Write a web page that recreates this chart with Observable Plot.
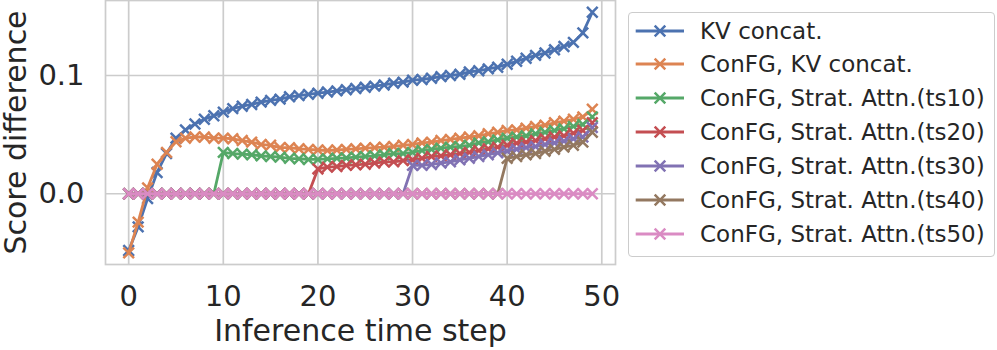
<!DOCTYPE html>
<html><head><meta charset="utf-8">
<script src="https://cdn.jsdelivr.net/npm/d3@7"></script>
<script src="https://cdn.jsdelivr.net/npm/@observablehq/plot@0.6"></script>
<style>
body{margin:0;background:#fff;font-family:"DejaVu Sans",sans-serif;}
#wrap{position:relative;width:997px;height:350px;}
#legend{position:absolute;left:627.5px;top:11.5px;width:367px;height:245px;border:1px solid #cccccc;border-radius:4px;background:rgba(255,255,255,0.8);box-sizing:border-box}
.row{position:absolute;height:34px;line-height:34px;font-size:23px;color:#262626;white-space:nowrap;font-family:"DejaVu Sans",sans-serif}
.sw{position:absolute;width:50px;height:34px}
</style></head><body><div id="wrap"></div>
<script>
const steps = [0,1,2,3,4,5,6,7,8,9,10,11,12,13,14,15,16,17,18,19,20,21,22,23,24,25,26,27,28,29,30,31,32,33,34,35,36,37,38,39,40,41,42,43,44,45,46,47,48,49];
const xTicks = [0,10,20,30,40,50];
const yTicks = [0,0.1];
const seriesNames = ["KV concat.","ConFG, KV concat.","ConFG, Strat. Attn.(ts10)","ConFG, Strat. Attn.(ts20)","ConFG, Strat. Attn.(ts30)","ConFG, Strat. Attn.(ts40)","ConFG, Strat. Attn.(ts50)"];
const seriesColors = ["#4C72B0","#DD8452","#55A868","#C44E52","#8172B3","#937860","#DA8BC3"];

const kvConcat = [-0.048,-0.028,-0.004,0.018,0.034,0.047,0.054,0.059,0.063,0.066,0.069,0.072,0.074,0.0755,0.0775,0.079,0.080,0.082,0.083,0.084,0.085,0.086,0.087,0.088,0.089,0.090,0.091,0.092,0.0935,0.0944,0.096,0.0966,0.0977,0.099,0.100,0.101,0.103,0.104,0.1056,0.107,0.1095,0.112,0.1146,0.117,0.119,0.1217,0.1245,0.128,0.136,0.1535];
const confgKv = [-0.050,-0.024,0.005,0.025,0.035,0.044,0.047,0.048,0.048,0.047,0.047,0.0465,0.045,0.0437,0.0417,0.041,0.039,0.039,0.038,0.0375,0.037,0.0366,0.037,0.0375,0.038,0.0386,0.039,0.0394,0.040,0.041,0.0417,0.043,0.0437,0.045,0.046,0.047,0.048,0.049,0.0507,0.052,0.0535,0.054,0.0555,0.057,0.058,0.060,0.0614,0.063,0.065,0.0715];
const strat10 = [0,0,0,0,0,0,0,0,0,0,0.035,0.034,0.0335,0.033,0.032,0.0315,0.031,0.030,0.0296,0.029,0.029,0.0295,0.030,0.0303,0.031,0.0315,0.032,0.033,0.034,0.034,0.035,0.0366,0.0375,0.0386,0.0394,0.040,0.041,0.043,0.044,0.0456,0.047,0.048,0.049,0.0507,0.052,0.0535,0.055,0.057,0.0586,0.065];
const strat20 = [0,0,0,0,0,0,0,0,0,0,0,0,0,0,0,0,0,0,0,0,0.021,0.0225,0.023,0.024,0.0245,0.025,0.026,0.027,0.027,0.028,0.0287,0.030,0.0315,0.032,0.033,0.034,0.035,0.0366,0.038,0.0394,0.041,0.0428,0.0437,0.045,0.0465,0.048,0.049,0.0513,0.0535,0.060];
const strat30 = [0,0,0,0,0,0,0,0,0,0,0,0,0,0,0,0,0,0,0,0,0,0,0,0,0,0,0,0,0,0,0.024,0.024,0.0248,0.026,0.027,0.0287,0.030,0.0315,0.033,0.0346,0.036,0.0377,0.039,0.040,0.0417,0.043,0.0445,0.0465,0.048,0.056];
const strat40 = [0,0,0,0,0,0,0,0,0,0,0,0,0,0,0,0,0,0,0,0,0,0,0,0,0,0,0,0,0,0,0,0,0,0,0,0,0,0,0,0,0.030,0.0315,0.033,0.034,0.036,0.0375,0.0394,0.041,0.0437,0.052];
const strat50 = [0,0,0,0,0,0,0,0,0,0,0,0,0,0,0,0,0,0,0,0,0,0,0,0,0,0,0,0,0,0,0,0,0,0,0,0,0,0,0,0,0,0,0,0,0,0,0,0,0,0];

const seriesValues = [kvConcat, confgKv, strat10, strat20, strat30, strat40, strat50];
const tables = seriesValues.map((vals, k) => steps.map((s, i) => ({step: s, value: vals[i], series: seriesNames[k]})));

const marks = [
  Plot.gridX({ticks: xTicks, stroke: "#cccccc", strokeOpacity: 1, strokeWidth: 1.7}),
  Plot.gridY({ticks: yTicks, stroke: "#cccccc", strokeOpacity: 1, strokeWidth: 1.7}),
  Plot.frame({stroke: "#cccccc", strokeWidth: 1.7}),
  Plot.axisX({ticks: xTicks, tickSize: 0, tickPadding: 21, fontSize: 29, label: null}),
  Plot.axisY({ticks: yTicks, tickSize: 0, tickPadding: 21, fontSize: 29, tickFormat: d3.format(".1f"), label: null}),
  Plot.text(["Inference time step"], {text: d => d, frameAnchor: "bottom", dy: 55.4, lineAnchor: "top", textAnchor: "middle", fontSize: 30}),
  Plot.text(["Score difference"], {text: d => d, frameAnchor: "left", rotate: -90, dx: -100.5, lineAnchor: "top", textAnchor: "middle", fontSize: 30})
];
tables.forEach(t => {
  marks.push(Plot.line(t, {x: "step", y: "value", stroke: "series", strokeWidth: 2.8}));
  marks.push(Plot.dot(t, {x: "step", y: "value", stroke: "series", symbol: "times", r: 4.9, strokeWidth: 2.5}));
});

const chart = Plot.plot({
  width: 997, height: 350,
  marginLeft: 105, marginRight: 382, marginTop: 0, marginBottom: 86,
  style: {fontFamily: "DejaVu Sans", color: "#262626", background: "transparent", overflow: "visible"},
  x: {domain: [-2.45, 51.45]},
  y: {domain: [-0.0598, 0.1634]},
  color: {domain: seriesNames, range: seriesColors},
  marks
});
const wrap = document.getElementById("wrap");
wrap.appendChild(chart);

const legend = document.createElement("div");
legend.id = "legend";
wrap.appendChild(legend);
seriesNames.forEach((name, i) => {
  const top = 13.5 + 33.9 * i;
  const sw = document.createElementNS("http://www.w3.org/2000/svg", "svg");
  sw.setAttribute("class", "sw");
  sw.setAttribute("width", 50); sw.setAttribute("height", 34);
  sw.style.left = "635px"; sw.style.top = top + "px";
  const c = seriesColors[i];
  sw.innerHTML = `<line x1="0.7" x2="49" y1="17" y2="17" stroke="${c}" stroke-width="2.8"/>` +
    `<path d="M19.7,11.7L30.3,22.3M19.7,22.3L30.3,11.7" stroke="${c}" stroke-width="2.5" fill="none"/>`;
  wrap.appendChild(sw);
  const t = document.createElement("div");
  t.className = "row";
  t.style.left = "700px"; t.style.top = top + "px";
  t.textContent = name;
  wrap.appendChild(t);
});
</script></body></html>
